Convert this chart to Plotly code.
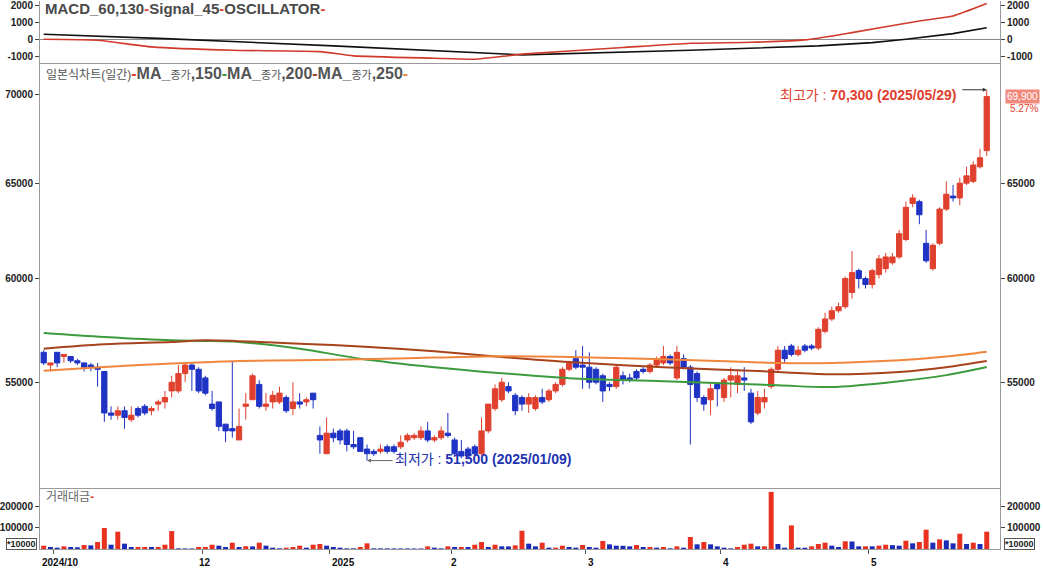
import math
import plotly.graph_objects as go

# ---------------- data ----------------
# daily candles, 2024/10/30 .. 2025/05/29 (index = trading day)
opens = [56400, 55800, 56400, 56200, 56200, 56000, 55900, 55800, 55700, 55500,
         53600, 53500, 53700, 53300, 53800, 53900, 53700, 54000, 54100, 54600,
         54600, 55400, 55800, 55600, 55200, 54000, 54100, 53100, 52900, 52400,
         53900, 54200, 54900, 53900, 54100, 54100, 54300, 53800, 54100, 54100,
         54500, 52600, 51800, 52700, 52800, 52800, 52200, 52500, 52000, 51900,
         51900, 52100, 52100, 52100, 52400, 52500, 52500, 52800, 52400, 52500,
         52700, 52400, 51900, 52000, 52100, 51800, 52800, 53800, 54200, 54800,
         54400, 54300, 54000, 53800, 54300, 54200, 54600, 54900, 55600, 56100,
         55800, 55700, 55600, 55300, 54900, 54800, 55300, 55200, 55500, 55600,
         55500, 55800, 55900, 56200, 55200, 56100, 55700, 55400, 54300, 54200,
         54900, 54300, 55100, 54900, 55200, 54500, 53600, 54100, 54800, 55600,
         56500, 56700, 56300, 56700, 56700, 56600, 57400, 58000, 58400, 58600,
         59300, 60400, 60000, 59700, 60200, 60500, 60800, 61100, 62000, 63900,
         64000, 61800, 60500, 61800, 63600, 64300, 64200, 65000, 65100, 65900,
         66800]
highs = [56500, 55900, 56400, 56300, 56200, 56100, 55900, 55900, 55900, 55500,
         53900, 53900, 53900, 53900, 53900, 54000, 53900, 54200, 54600, 55300,
         55800, 55900, 55900, 55700, 55300, 54600, 54100, 53100, 56000, 53800,
         54500, 55400, 55100, 54500, 54600, 54800, 54400, 55000, 54500, 54300,
         54500, 53000, 53400, 52900, 52900, 52900, 52800, 52500, 52200, 52000,
         52200, 52200, 52200, 52600, 52700, 52700, 53000, 53200, 52600, 53000,
         53600, 52500, 52400, 52100, 52200, 53400, 54000, 54900, 55200, 55000,
         54500, 54400, 54500, 54400, 54700, 54700, 55000, 55700, 56000, 56500,
         56700, 56400, 55700, 55400, 55000, 55800, 55500, 55400, 55600, 55700,
         55900, 56200, 56700, 56300, 56700, 56300, 55800, 55500, 54400, 55000,
         55000, 55200, 55700, 55600, 55700, 54700, 54600, 54700, 55700, 56700,
         56700, 56800, 56700, 56800, 56800, 57600, 58300, 58600, 58800, 60100,
         61400, 60500, 60100, 60500, 61200, 61300, 61300, 62500, 64000, 64400,
         64100, 62500, 61800, 63700, 65100, 64900, 65300, 65900, 66200, 66900,
         70300]
lows = [55800, 55500, 55700, 55900, 55900, 55800, 55500, 55500, 54800, 53200,
        53300, 53300, 52900, 53200, 53400, 53500, 53500, 53700, 53800, 54300,
        54500, 55000, 54600, 54500, 54400, 53700, 52800, 52300, 52500, 52400,
        53300, 54200, 53800, 53700, 53800, 54000, 53600, 53500, 53800, 53900,
        53800, 51800, 51800, 52300, 52200, 51900, 52000, 51900, 51500, 51700,
        51800, 51800, 51800, 52000, 52300, 52400, 52400, 52300, 52300, 52400,
        52500, 51700, 51600, 51600, 51700, 51700, 52700, 53700, 54100, 54500,
        53500, 53700, 53600, 53700, 54000, 54100, 54500, 54800, 55500, 55600,
        54700, 54700, 54900, 54100, 54600, 54700, 54900, 55000, 55100, 55400,
        55400, 55700, 55800, 55800, 55100, 55600, 52200, 54100, 53700, 53500,
        53900, 54100, 54300, 54500, 54600, 53100, 53500, 53800, 54700, 55500,
        55900, 56200, 56200, 56400, 56500, 56500, 57300, 57900, 58300, 58500,
        59000, 59500, 59500, 59500, 60000, 60300, 60700, 61000, 61900, 63700,
        62800, 60800, 60400, 61700, 63500, 64000, 63800, 64900, 65000, 65800,
        66500]
closes = [55900, 55900, 55900, 56300, 56000, 55900, 55700, 55700, 55600, 53600,
          53500, 53700, 53400, 53500, 53500, 53600, 53800, 54100, 54300, 55000,
          55400, 55800, 55600, 54600, 54500, 53800, 53000, 52800, 52800, 53000,
          54000, 55300, 53900, 54000, 54400, 54500, 53700, 54100, 54000, 54200,
          54200, 52400, 52700, 52500, 52400, 52200, 52100, 51900, 51800, 51800,
          52000, 51900, 51900, 52300, 52600, 52600, 52800, 52400, 52500, 52800,
          52600, 51800, 51700, 51700, 51800, 52800, 54000, 54700, 55000, 54600,
          53700, 54000, 54300, 54300, 54100, 54600, 54900, 55600, 55900, 55700,
          55700, 55000, 55000, 54600, 54800, 55700, 55100, 55100, 55200, 55500,
          55800, 56100, 56200, 55900, 56400, 55700, 54900, 54300, 54000, 54700,
          54700, 55100, 55300, 55300, 55100, 53200, 54300, 54300, 55600, 56500,
          56100, 56300, 56500, 56500, 56600, 57500, 58000, 58400, 58600, 60000,
          60300, 60000, 59700, 60400, 61000, 61100, 61100, 62300, 63700, 64200,
          63300, 60900, 61700, 63600, 64400, 64200, 65000, 65400, 66000, 66400,
          69900]
# 거래대금 (unit: *10000 won)
trade_value = [15500, 9300, 6200, 12400, 9300, 7800, 18600, 17000, 32500, 97600,
               20000, 80600, 24800, 9300, 9500, 9700, 9300, 9500, 20000, 83700,
               3100, 2800, 2600, 9300, 9500, 20000, 15500, 9300, 29500, 9300,
               13000, 12000, 29500, 15500, 6200, 3100, 6200, 9300, 15500, 6200,
               20000, 23200, 15500, 9300, 6200, 3100, 3000, 9300, 26400, 3100,
               3000, 2900, 2800, 2700, 2600, 2500, 2400, 12400, 6200, 3100,
               12400, 9300, 9500, 9300, 20000, 32500, 9300, 20000, 12400, 12000,
               17000, 85000, 24800, 12400, 29500, 6200, 6400, 15500, 9300, 6200,
               18600, 9300, 6200, 37200, 21700, 15500, 15000, 12400, 18600, 9300,
               9500, 6200, 9300, 3100, 12400, 6200, 55800, 21700, 32500, 21700,
               12400, 6200, 3100, 9300, 20000, 24800, 12400, 12600, 266000, 23200,
               6200, 110000, 6200, 6000, 12400, 23200, 29500, 15500, 9300, 36000,
               35000, 12400, 12600, 12400, 15500, 20000, 18000, 15500, 38800, 26400,
               32500, 90000, 29500, 45000, 40300, 26400, 71300, 23200, 29500, 23200,
               80600]

# moving averages, read at sample days
ma_idx = [0, 9, 19, 24, 29, 38, 47, 58, 68, 78, 92, 109, 117, 127, 134, 140]
ma150 = [57320, 57130, 56970, 56940, 56890, 56570, 56100, 55700, 55420, 55190,
         55050, 54860, 54780, 55050, 55330, 55710]
ma200 = [56570, 56780, 56890, 56970, 56930, 56810, 56680, 56450, 56180, 55940,
         55700, 55480, 55370, 55480, 55700, 55990]
ma250 = [55530, 55710, 55870, 55930, 55990, 56030, 56070, 56150, 56210, 56180,
         56070, 55900, 55900, 56020, 56200, 56430]

# MACD(60,130) / Signal(45), read at sample days
macd_idx = [0, 8, 16, 28, 41, 46, 58, 64, 71, 86, 96, 105, 113, 120, 130, 135, 140]
macd = [40, -20, -410, -610, -690, -940, -1080, -1140, -840, -450, -200, -140,
        0, 430, 1120, 1410, 2140]
signal_idx = [0, 18, 43, 71, 96, 115, 123, 128, 135, 140]
signal = [335, 76, -350, -880, -610, -350, -160, 40, 370, 720]

month_tick_idx = [1.5, 23.5, 42.5, 60.5, 80.5, 100.5, 122.5]
month_labels = ["2024/10", "12", "2025", "2", "3", "4", "5"]
high_date = "2025/05/29"
low_date = "2025/01/09"

# ---------------- styling ----------------
RED = "#e0402e"
BLUE = "#1f33c4"
VRED = "#e8311f"
VBLUE = "#1a2bb8"
GREEN = "#3c9b3c"
BROWN = "#a8421c"
ORANGE = "#f0863c"
AX = "#9a9a9a"
FONT = "Liberation Sans, Arial, Noto Sans CJK KR"

x = list(range(len(closes)))
vol_colors = [VRED if i == 0 or trade_value[i] >= trade_value[i - 1] else VBLUE
              for i in range(len(trade_value))]

MAIN_LO, MAIN_HI = 50325, 71841
VOL_TOP = 279000
MACD_LO, MACD_HI = -1353, 2294

fig = go.Figure()

# volume
fig.add_trace(go.Bar(x=x, y=trade_value, marker=dict(color=vol_colors, line=dict(width=0)),
                     width=0.74, xaxis="x", yaxis="y", hoverinfo="skip"))
# candles
fig.add_trace(go.Candlestick(x=x, open=opens, high=highs, low=lows, close=closes,
                             xaxis="x2", yaxis="y2", whiskerwidth=0,
                             increasing=dict(line=dict(color=RED, width=1), fillcolor=RED),
                             decreasing=dict(line=dict(color=BLUE, width=1), fillcolor=BLUE),
                             hoverinfo="skip"))
for vals, col in [(ma150, GREEN), (ma200, BROWN), (ma250, ORANGE)]:
    fig.add_trace(go.Scatter(x=ma_idx, y=vals, mode="lines", xaxis="x2", yaxis="y2",
                             line=dict(color=col, width=2, shape="spline", smoothing=0.9),
                             hoverinfo="skip"))
# MACD
fig.add_trace(go.Scatter(x=signal_idx, y=signal, mode="lines", xaxis="x3", yaxis="y3",
                         line=dict(color="#111111", width=1.6), hoverinfo="skip"))
fig.add_trace(go.Scatter(x=macd_idx, y=macd, mode="lines", xaxis="x3", yaxis="y3",
                         line=dict(color="#d03a2a", width=1.6, shape="spline", smoothing=0.5),
                         hoverinfo="skip"))
# invisible traces so right-hand axes get drawn
for xa, ya, yv in [("x", "y4", 0), ("x2", "y5", 60000), ("x3", "y6", 0)]:
    fig.add_trace(go.Scatter(x=[0], y=[yv], mode="markers", marker=dict(opacity=0),
                             xaxis=xa, yaxis=ya, hoverinfo="skip"))

tickfont = dict(family=FONT, size=10, color="#222", weight="bold")
xr = [-0.55, 141.97]


def xax(anchor, **kw):
    d = dict(range=xr, anchor=anchor, showgrid=False, zeroline=False, showline=True,
             linecolor=AX, linewidth=1, showticklabels=False, fixedrange=True)
    d.update(kw)
    return d


def yax(domain, rng, vals, side="left", **kw):
    d = dict(domain=domain, range=rng, tickvals=vals, ticktext=[f"{v:d}" for v in vals],
             side=side, ticks="outside", ticklen=4, tickcolor="#444", tickfont=tickfont,
             showline=True, linecolor=AX, linewidth=1, showgrid=False, zeroline=False,
             fixedrange=True, ticklabeloverflow="allow")
    d.update(kw)
    return d


VOL_DOM = [0, 0.1093]
MAIN_DOM = [0.1111, 0.8852]
MACD_DOM = [0.8871, 1.0]
main_rng = [math.log10(MAIN_LO), math.log10(MAIN_HI)]

fig.update_layout(
    width=1043, height=570, margin=dict(l=38, r=43, t=0, b=21),
    paper_bgcolor="white", plot_bgcolor="white", showlegend=False,
    boxgap=0.22, boxgroupgap=0.0, bargap=0.25,
    xaxis=xax("y", ticks="outside", ticklen=4, tickcolor="#555", tickvals=month_tick_idx),
    xaxis2=xax("y2", matches="x", rangeslider=dict(visible=False)),
    xaxis3=xax("y3", matches="x"),
    yaxis=yax(VOL_DOM, [0, VOL_TOP], [100000, 200000], anchor="x"),
    yaxis4=yax(VOL_DOM, [0, VOL_TOP], [100000, 200000], side="right", overlaying="y", anchor="x"),
    yaxis2=yax(MAIN_DOM, main_rng, [55000, 60000, 65000, 70000], type="log", anchor="x2"),
    yaxis5=yax(MAIN_DOM, main_rng, [55000, 60000, 65000], side="right", type="log",
               overlaying="y2", anchor="x2"),
    yaxis3=yax(MACD_DOM, [MACD_LO, MACD_HI], [-1000, 0, 1000, 2000], anchor="x3",
               zeroline=True, zerolinecolor="#8a8a8a", zerolinewidth=1),
    yaxis6=yax(MACD_DOM, [MACD_LO, MACD_HI], [-1000, 0, 1000, 2000], side="right",
               overlaying="y3", anchor="x3"),
    font=dict(family=FONT),
)

ann = []
# month labels
shifts = [-14, -5, 0, -2, 0, 0, 0]
for tv, lab, sh in zip(month_tick_idx, month_labels, shifts):
    ann.append(dict(x=tv, y=0, xref="x", yref="paper", text=lab, showarrow=False,
                    xanchor="left", yanchor="top", xshift=sh, yshift=-6,
                    font=dict(family=FONT, size=10, color="#111", weight="bold")))

dash = lambda c: f"<span style='color:{c}'><b>-</b></span>"
ann.append(dict(xref="paper", yref="paper", x=0, y=(549 - 8) / 549, xanchor="left",
                yanchor="middle", xshift=3, showarrow=False,
                text="<b>MACD_60,130</b>" + dash(RED) + "<b>Signal_45</b>" + dash(RED)
                     + "<b>OSCILLATOR</b>" + dash(RED),
                font=dict(family=FONT, size=15, color="#4a4a4a")))
ma_lab = lambda n: "<b>MA_</b><span style='font-size:11px'>종가</span><b>," + n + "</b>"
ann.append(dict(xref="paper", yref="paper", x=0, y=(549 - 73) / 549, xanchor="left",
                yanchor="middle", xshift=4, showarrow=False,
                text="<span style='font-size:12px'>일본식차트(일간)</span>" + dash(RED)
                     + ma_lab("150") + dash(GREEN) + ma_lab("200") + dash(BROWN)
                     + ma_lab("250") + dash(ORANGE),
                font=dict(family=FONT, size=16, color="#555")))
ann.append(dict(xref="paper", yref="paper", x=0, y=(549 - 497) / 549, xanchor="left",
                yanchor="middle", xshift=4, showarrow=False,
                text="거래대금" + dash(RED), font=dict(family=FONT, size=12, color="#666")))

# highest / lowest markers
hi_i = max(range(len(highs)), key=lambda i: highs[i])
lo_i = min(range(len(lows)), key=lambda i: lows[i])
ann.append(dict(x=hi_i, y=math.log10(highs[hi_i]), xref="x2", yref="y2", showarrow=False,
                xanchor="right", yanchor="middle", xshift=-29, yshift=-5,
                text=f"최고가 : <b>{highs[hi_i]:,} ({high_date})</b>",
                font=dict(family=FONT, size=14, color=RED)))
ann.append(dict(x=hi_i, y=math.log10(highs[hi_i]), xref="x2", yref="y2", text="",
                showarrow=True, ax=-26, ay=0, arrowhead=2, arrowsize=0.8, arrowwidth=1,
                arrowcolor="#333"))
ann.append(dict(x=lo_i, y=math.log10(lows[lo_i]), xref="x2", yref="y2", showarrow=False,
                xanchor="left", yanchor="middle", xshift=26, yshift=2,
                text=f"최저가 : <b>{lows[lo_i]:,} ({low_date})</b>",
                font=dict(family=FONT, size=14, color="#2433b0")))
ann.append(dict(x=lo_i, y=math.log10(lows[lo_i]), xref="x2", yref="y2", text="",
                showarrow=True, ax=27, ay=0, arrowhead=2, arrowsize=0.8, arrowwidth=1,
                arrowcolor="#666"))

# last price box and change
last, prev = closes[-1], closes[-2]
chg = (last / prev - 1) * 100
ann.append(dict(xref="paper", yref="y2", x=1, y=math.log10(last), xanchor="left",
                yanchor="middle", xshift=5, showarrow=False, text=f"{last:,}",
                bgcolor="#f2877c", borderpad=1,
                font=dict(family=FONT, size=10, color="white")))
ann.append(dict(xref="paper", yref="y2", x=1, y=math.log10(last), xanchor="left",
                yanchor="middle", xshift=8, yshift=-12, showarrow=False, text=f"{chg:.2f}%",
                font=dict(family=FONT, size=10, color=RED)))
# unit boxes
for xp, xa, xs in [(0, "right", -3), (1, "left", 4)]:
    ann.append(dict(xref="paper", yref="paper", x=xp, y=(549 - 544) / 549, xanchor=xa,
                    yanchor="middle", xshift=xs, showarrow=False, text="*10000",
                    bordercolor="#555", borderwidth=1, borderpad=0, bgcolor="white",
                    font=dict(family=FONT, size=9, color="#222", weight="bold")))
fig.update_layout(annotations=ann)

# price-position bar on the right edge (red above previous close, blue below)
fig.update_layout(shapes=[
    dict(type="line", xref="paper", yref="y2", x0=1.0027, x1=1.0027,
         y0=math.log10(prev), y1=main_rng[1], line=dict(color="#c0302a", width=3.5)),
    dict(type="line", xref="paper", yref="y2", x0=1.0027, x1=1.0027,
         y0=main_rng[0], y1=math.log10(prev), line=dict(color="#1a1a9a", width=3.5)),
])

fig.write_html("out.html",
               config={"displayModeBar": False, "staticPlot": True},
               post_script="document.body.style.margin='0px';"
                           "document.body.style.padding='0px';"
                           "document.body.style.overflow='hidden';")
